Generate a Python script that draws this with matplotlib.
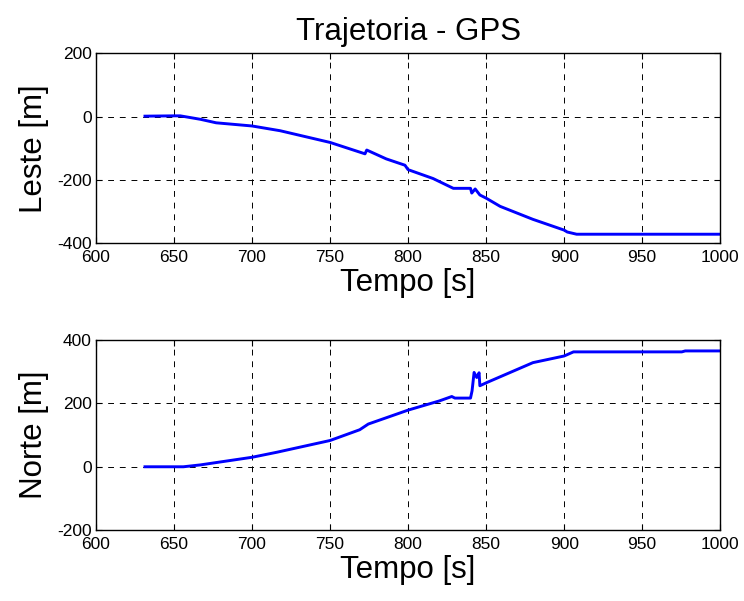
import matplotlib
matplotlib.use("Agg")
import matplotlib.pyplot as plt
import numpy as np

plt.rcParams['font.family'] = ['Liberation Sans', 'DejaVu Sans']
plt.rcParams['axes.unicode_minus'] = False

# Leste (East) series
t_leste = [631.4, 650, 654, 667, 677, 700, 718, 750, 772.4, 773.5, 786, 798, 800, 816, 829, 840,
           840.8, 843, 846, 850, 859, 880, 900, 902, 908, 1000]
leste = [2, 3, 3, -8, -19, -29, -44, -81, -117, -105, -133, -153, -167, -195, -226, -226,
         -241, -228, -247, -257, -283, -324, -358, -364, -371, -371]

# Norte (North) series
t_norte = [631.4, 656, 667, 700, 716, 750, 769, 774.5, 800, 820, 828, 830, 840, 841, 842.3,
           844, 845.5, 846, 850.4, 880, 900, 906, 975.4, 977.6, 1000]
norte = [0, 0, 6, 30, 46, 83, 117, 135, 179, 208, 222, 217, 217, 240, 298,
         282, 297, 256, 266, 329, 350, 363, 363, 366, 366]

xticks = [600, 650, 700, 750, 800, 850, 900, 950, 1000]

fig = plt.figure(figsize=(7.44, 6.01), dpi=100)
ax1 = fig.add_axes([0.129, 0.595, 0.839, 0.316])
ax2 = fig.add_axes([0.129, 0.118, 0.839, 0.316])

def style(ax, yticks, ylabel):
    ax.set_xlim(600, 1000)
    ax.set_ylim(yticks[0], yticks[-1])
    ax.set_xticks(xticks)
    ax.set_yticks(yticks)
    ax.tick_params(direction='in', top=True, right=True, labelsize=12.5, length=4)
    ax.tick_params(axis='x', pad=5)
    ax.tick_params(axis='y', pad=3)
    ax.grid(True, color='black', linestyle=(0, (6, 6)), linewidth=0.7)
    ax.set_xlabel('Tempo [s]', fontsize=22.5, labelpad=2)
    ax.set_ylabel(ylabel, fontsize=22.5, labelpad=6)
    for s in ax.spines.values():
        s.set_linewidth(1.0)

ax1.plot(t_leste, leste, color='#0000ff', linewidth=2.1)
style(ax1, [-400, -200, 0, 200], 'Leste [m]')
ax1.set_title('Trajetoria - GPS', fontsize=22.5, pad=10)

ax2.plot(t_norte, norte, color='#0000ff', linewidth=2.1)
style(ax2, [-200, 0, 200, 400], 'Norte [m]')

fig.savefig('out.png', dpi=100)
